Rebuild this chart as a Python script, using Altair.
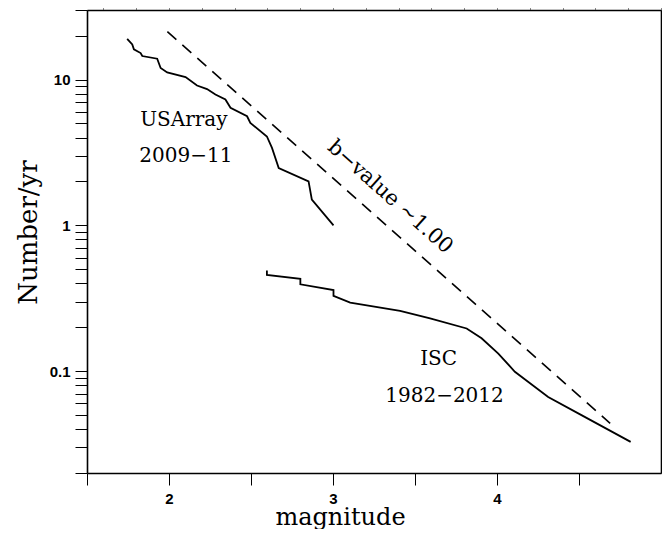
import altair as alt
import pandas as pd

# USArray 2009-11 cumulative rate
us_mag = [1.745, 1.776, 1.786, 1.827, 1.837, 1.928, 1.949, 1.989, 2.101, 2.171, 2.232,
          2.283, 2.344, 2.375, 2.476, 2.496, 2.597, 2.628, 2.669, 2.851, 2.871, 3.003]
us_rate = [19.0, 17.4, 16.1, 15.2, 14.5, 13.9, 12.0, 11.2, 10.4, 9.1, 8.6,
           7.9, 7.3, 6.4, 5.6, 5.04, 4.07, 3.40, 2.47, 2.00, 1.50, 1.0]

# ISC 1982-2012 cumulative rate
isc_mag = [2.597, 2.597, 2.801, 2.801, 3.003, 3.003, 3.105, 3.409, 3.592, 3.815,
           3.906, 4.008, 4.109, 4.312, 4.515, 4.815]
isc_rate = [0.489, 0.457, 0.429, 0.394, 0.360, 0.328, 0.295, 0.259, 0.230, 0.196,
            0.168, 0.132, 0.099, 0.0665, 0.0499, 0.0327]

# b-value ~1.00 reference line
b_mag = [1.99, 4.69]
b_rate = [21.3, 0.0438]

# annotations
lab_text = ["USArray", "2009\u221211", "ISC", "1982\u22122012"]
lab_mag = [2.091, 2.103, 3.644, 3.68]
lab_rate = [5.32, 2.97, 0.121, 0.0675]

x_ticks = [1.5, 2, 2.5, 3, 3.5, 4, 4.5]
y_ticks = [0.02, 0.03, 0.04, 0.05, 0.06, 0.07, 0.08, 0.09,
           0.1, 0.2, 0.3, 0.4, 0.5, 0.6, 0.7, 0.8, 0.9,
           1, 2, 3, 4, 5, 6, 7, 8, 9, 10, 20, 30]

us_df = pd.DataFrame({"m": us_mag, "n": us_rate, "o": range(len(us_mag))})
isc_df = pd.DataFrame({"m": isc_mag, "n": isc_rate, "o": range(len(isc_mag))})
b_df = pd.DataFrame({"m": b_mag, "n": b_rate})
lab_df = pd.DataFrame({"t": lab_text, "m": lab_mag, "n": lab_rate})
bv_df = pd.DataFrame({"t": ["b\u2212value ~1.00"], "m": [3.347], "n": [1.56]})

serif = "DejaVu Serif"

xscale = alt.Scale(domain=[1.5, 5.0], nice=False, zero=False)
yscale = alt.Scale(type="log", domain=[0.02, 30], nice=False)

dom = dict(domain=True, domainColor="black", domainWidth=1.6)

xaxis = alt.Axis(
    title="magnitude", values=x_ticks,
    labelExpr="datum.value == 2 ? '2' : datum.value == 3 ? '3' : datum.value == 4 ? '4' : ''",
    tickSize=12, tickColor="black", tickWidth=1, grid=False,
    labelFont="Liberation Sans", labelFontWeight="bold",
    labelFontSize=15, labelColor="black", labelPadding=6,
    titleFont=serif, titleFontSize=24, titleFontWeight="normal", titleColor="black",
    titleX=253, titleY=51, titleBaseline="alphabetic", titleAnchor="start", titleAlign="center",
    **dom,
)
yaxis = alt.Axis(
    title="Number/yr", values=y_ticks,
    labelExpr="datum.value == 10 ? '10' : datum.value == 1 ? '1' : datum.value == 0.1 ? '0.1' : ''",
    tickSize=12, tickColor="black", tickWidth=1, grid=False,
    labelFont="Liberation Sans", labelFontWeight="bold",
    labelFontSize=15, labelColor="black", labelPadding=5,
    titleFont=serif, titleFontSize=26, titleFontWeight="normal", titleColor="black",
    titleX=-51, titleY=222, titleBaseline="alphabetic", titleAlign="center", titleAngle=270,
    **dom,
)

base_x = alt.X("m:Q", scale=xscale, axis=xaxis)
base_y = alt.Y("n:Q", scale=yscale, axis=yaxis)

us_line = alt.Chart(us_df).mark_line(color="black", strokeWidth=1.8).encode(
    x=base_x, y=base_y, order="o:Q")
isc_line = alt.Chart(isc_df).mark_line(color="black", strokeWidth=1.8).encode(
    x=alt.X("m:Q", scale=xscale), y=alt.Y("n:Q", scale=yscale), order="o:Q")
b_line = alt.Chart(b_df).mark_line(color="black", strokeWidth=1.6, strokeDash=[12, 8]).encode(
    x=alt.X("m:Q", scale=xscale), y=alt.Y("n:Q", scale=yscale))
frame = alt.Chart(b_df).mark_point(opacity=0).encode(
    x=alt.X("m:Q", scale=xscale, axis=alt.Axis(orient="top", values=[], labels=False, ticks=False,
                                                title=None, grid=False, **dom)),
    y=alt.Y("n:Q", scale=yscale, axis=alt.Axis(orient="right", values=y_ticks, labels=False,
                                                title=None, tickSize=12, tickColor="black",
                                                grid=False, **dom)))
labels = alt.Chart(lab_df).mark_text(font=serif, fontSize=20, color="black",
                                     align="center", baseline="middle").encode(
    x=alt.X("m:Q", scale=xscale), y=alt.Y("n:Q", scale=yscale), text="t:N")
bv = alt.Chart(bv_df).mark_text(font=serif, fontSize=21, color="black", angle=41.6,
                                align="center", baseline="middle").encode(
    x=alt.X("m:Q", scale=xscale), y=alt.Y("n:Q", scale=yscale), text="t:N")

chart = alt.layer(us_line, isc_line, b_line, labels, bv, frame).resolve_scale(
    x="shared", y="shared").resolve_axis(x="independent", y="independent").properties(
    width=574, height=463,
    autosize=alt.AutoSizeParams(type="none"),
    padding={"left": 79, "top": 2, "right": 1, "bottom": 56},
).configure_view(stroke=None).configure(background="white")

chart.save("out.html", embed_options={"renderer": "svg", "actions": False})
